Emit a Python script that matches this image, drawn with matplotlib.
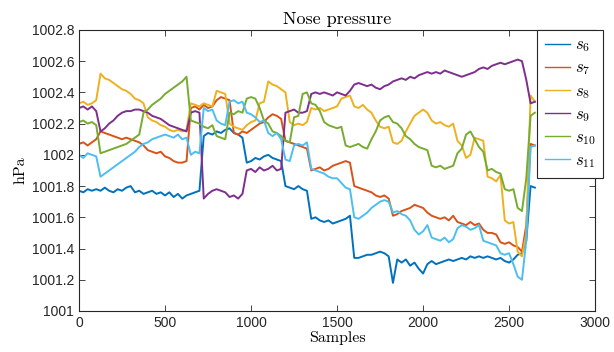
import numpy as np
import matplotlib
matplotlib.use("Agg")
import matplotlib.pyplot as plt

# sample index of each reading (one reading every 25 samples)
samples = list(range(0, 2651, 25))

s6 = [1001.77, 1001.76, 1001.78, 1001.77, 1001.78, 1001.77, 1001.79, 1001.77,
      1001.76, 1001.78, 1001.77, 1001.79, 1001.80, 1001.76, 1001.77, 1001.75,
      1001.76, 1001.77, 1001.75, 1001.76, 1001.74, 1001.76, 1001.73, 1001.75,
      1001.72, 1001.74, 1001.75, 1001.76, 1001.77, 1002.12, 1002.14, 1002.13,
      1002.15, 1002.14, 1002.16, 1002.17, 1002.14, 1002.13, 1002.11, 1001.95,
      1001.96, 1001.98, 1001.97, 1001.99, 1002.00, 1001.98, 1001.97, 1001.96,
      1001.80, 1001.79, 1001.78, 1001.80, 1001.78, 1001.77, 1001.59, 1001.60,
      1001.58, 1001.57, 1001.58, 1001.56, 1001.57, 1001.58, 1001.59, 1001.61,
      1001.34, 1001.34, 1001.35, 1001.36, 1001.36, 1001.37, 1001.38, 1001.37,
      1001.35, 1001.18, 1001.33, 1001.31, 1001.33, 1001.29, 1001.31, 1001.27,
      1001.24, 1001.30, 1001.32, 1001.30, 1001.31, 1001.32, 1001.33, 1001.32,
      1001.33, 1001.34, 1001.33, 1001.35, 1001.34, 1001.35, 1001.34, 1001.35,
      1001.34, 1001.33, 1001.34, 1001.32, 1001.31, 1001.33, 1001.36, 1001.37,
      1001.45, 1001.80, 1001.79]

s7 = [1002.07, 1002.08, 1002.06, 1002.08, 1002.10, 1002.15, 1002.14, 1002.13,
      1002.12, 1002.11, 1002.10, 1002.11, 1002.10, 1002.09, 1002.08, 1002.06,
      1002.03, 1002.02, 1002.01, 1002.02, 1001.99, 1001.98, 1001.96, 1001.95,
      1001.95, 1001.96, 1002.30, 1002.31, 1002.29, 1002.32, 1002.30, 1002.31,
      1002.35, 1002.37, 1002.36, 1002.35, 1002.14, 1002.13, 1002.15, 1002.14,
      1002.16, 1002.18, 1002.20, 1002.21, 1002.24, 1002.26, 1002.25, 1002.23,
      1002.09, 1002.08, 1002.07, 1002.06, 1002.05, 1002.04, 1001.90, 1001.91,
      1001.92, 1001.90, 1001.91, 1001.93, 1001.94, 1001.95, 1001.96, 1001.95,
      1001.80, 1001.79, 1001.78, 1001.77, 1001.76, 1001.74, 1001.73, 1001.74,
      1001.72, 1001.61, 1001.62, 1001.64, 1001.65, 1001.66, 1001.68, 1001.67,
      1001.66, 1001.63, 1001.61, 1001.60, 1001.59, 1001.60, 1001.58, 1001.61,
      1001.57, 1001.56, 1001.55, 1001.57, 1001.55, 1001.56, 1001.52, 1001.50,
      1001.50, 1001.49, 1001.44, 1001.43, 1001.44, 1001.42, 1001.41, 1001.38,
      1001.55, 1002.07, 1002.06]

s8 = [1002.33, 1002.34, 1002.32, 1002.33, 1002.35, 1002.52, 1002.49, 1002.48,
      1002.46, 1002.44, 1002.42, 1002.41, 1002.39, 1002.36, 1002.35, 1002.33,
      1002.24, 1002.22, 1002.21, 1002.19, 1002.18, 1002.16, 1002.15, 1002.16,
      1002.15, 1002.16, 1002.33, 1002.32, 1002.31, 1002.33, 1002.32, 1002.31,
      1002.41, 1002.40, 1002.39, 1002.20, 1002.18, 1002.17, 1002.16, 1002.19,
      1002.21, 1002.22, 1002.33, 1002.34, 1002.47, 1002.45, 1002.44, 1002.42,
      1002.40, 1002.21, 1002.19, 1002.20, 1002.19, 1002.21, 1002.30, 1002.29,
      1002.30, 1002.28, 1002.29, 1002.30, 1002.31, 1002.36, 1002.37, 1002.38,
      1002.31, 1002.30, 1002.32, 1002.29, 1002.27, 1002.22, 1002.18, 1002.17,
      1002.18, 1002.08, 1002.07, 1002.09, 1002.15, 1002.20, 1002.25, 1002.27,
      1002.29, 1002.27, 1002.22, 1002.20, 1002.21, 1002.19, 1002.18, 1002.20,
      1002.09, 1002.06, 1001.98, 1002.00, 1002.11, 1002.10, 1002.09, 1001.86,
      1001.85, 1001.83, 1001.87, 1001.58, 1001.56, 1001.57, 1001.38, 1001.35,
      1001.50, 1002.38, 1002.34]

s9 = [1002.30, 1002.31, 1002.29, 1002.31, 1002.28, 1002.15, 1002.17, 1002.20,
      1002.22, 1002.25, 1002.27, 1002.28, 1002.28, 1002.29, 1002.29, 1002.28,
      1002.27, 1002.25, 1002.24, 1002.23, 1002.21, 1002.19, 1002.18, 1002.17,
      1002.16, 1002.15, 1002.27, 1002.28, 1002.27, 1001.72, 1001.75, 1001.77,
      1001.78, 1001.77, 1001.76, 1001.73, 1001.74, 1001.72, 1001.75, 1001.90,
      1001.91, 1001.89, 1001.92, 1001.90, 1001.91, 1001.93, 1001.90, 1001.91,
      1002.27, 1002.28, 1002.29, 1002.27, 1002.27, 1002.28, 1002.39, 1002.40,
      1002.39, 1002.40, 1002.39, 1002.38, 1002.40, 1002.39, 1002.38, 1002.41,
      1002.45, 1002.46, 1002.45, 1002.44, 1002.45, 1002.43, 1002.42, 1002.44,
      1002.45, 1002.47, 1002.48, 1002.49, 1002.48, 1002.50, 1002.49, 1002.51,
      1002.52, 1002.53, 1002.52, 1002.53, 1002.52, 1002.54, 1002.53, 1002.52,
      1002.51, 1002.50, 1002.51, 1002.52, 1002.53, 1002.55, 1002.56, 1002.55,
      1002.57, 1002.58, 1002.59, 1002.58, 1002.59, 1002.60, 1002.61, 1002.60,
      1002.48, 1002.33, 1002.34]

s10 = [1002.21, 1002.22, 1002.20, 1002.21, 1002.19, 1002.01, 1002.02, 1002.03,
       1002.04, 1002.05, 1002.06, 1002.07, 1002.09, 1002.11, 1002.13, 1002.27,
       1002.29, 1002.32, 1002.34, 1002.36, 1002.39, 1002.41, 1002.43, 1002.45,
       1002.47, 1002.50, 1002.22, 1002.21, 1002.20, 1002.18, 1002.17, 1002.19,
       1002.12, 1002.11, 1002.10, 1002.27, 1002.26, 1002.28, 1002.27, 1002.36,
       1002.37, 1002.36, 1002.30, 1002.22, 1002.20, 1002.15, 1002.14, 1002.12,
       1002.09, 1002.08, 1002.24, 1002.25, 1002.39, 1002.40, 1002.33, 1002.32,
       1002.28, 1002.21, 1002.19, 1002.18, 1002.17, 1002.18, 1002.06, 1002.05,
       1002.06, 1002.07, 1002.05, 1002.04, 1002.10, 1002.15, 1002.22, 1002.24,
       1002.25, 1002.21, 1002.20, 1002.17, 1002.12, 1002.10, 1002.07, 1002.05,
       1002.04, 1002.03, 1001.93, 1001.92, 1001.93, 1001.91, 1001.92, 1001.93,
       1002.01, 1002.04, 1002.13, 1002.15, 1002.10, 1002.05, 1002.02, 1001.90,
       1001.91, 1001.89, 1001.88, 1001.78, 1001.77, 1001.78, 1001.66, 1001.64,
       1001.85, 1002.25, 1002.27]

s11 = [1002.00, 1001.98, 1002.01, 1002.00, 1001.99, 1001.86, 1001.88, 1001.90,
       1001.92, 1001.94, 1001.96, 1001.98, 1002.00, 1002.02, 1002.05, 1002.07,
       1002.08, 1002.10, 1002.11, 1002.12, 1002.13, 1002.12, 1002.11, 1002.13,
       1002.10, 1002.11, 1002.00, 1002.02, 1002.01, 1002.30, 1002.28, 1002.29,
       1002.22, 1002.20, 1002.19, 1002.34, 1002.35, 1002.33, 1002.34, 1002.27,
       1002.26, 1002.24, 1002.21, 1002.22, 1002.14, 1002.12, 1002.14, 1002.10,
       1001.97, 1001.96, 1002.06, 1002.07, 1002.06, 1002.08, 1001.91, 1001.90,
       1001.89, 1001.88, 1001.86, 1001.85, 1001.85, 1001.82, 1001.79, 1001.78,
       1001.60, 1001.59, 1001.61, 1001.63, 1001.66, 1001.68, 1001.70, 1001.71,
       1001.70, 1001.63, 1001.64, 1001.62, 1001.61, 1001.58, 1001.52, 1001.49,
       1001.51, 1001.55, 1001.47, 1001.46, 1001.45, 1001.47, 1001.44, 1001.46,
       1001.53, 1001.55, 1001.54, 1001.52, 1001.53, 1001.55, 1001.45, 1001.44,
       1001.43, 1001.42, 1001.37, 1001.36, 1001.37, 1001.30, 1001.22, 1001.20,
       1001.45, 1002.05, 1002.06]

series = [s6, s7, s8, s9, s10, s11]
labels = ['$s_{6}$', '$s_{7}$', '$s_{8}$', '$s_{9}$', '$s_{10}$', '$s_{11}$']
colors = ['#0072BD', '#D95319', '#EDB120', '#7E2F8E', '#77AC30', '#4DBEEE']

plt.rcParams['font.family'] = ['Liberation Sans', 'DejaVu Sans']
plt.rcParams['mathtext.fontset'] = 'cm'
serif = ['cmr10', 'DejaVu Serif']

fig = plt.figure(figsize=(6.14, 3.52), dpi=100)
ax = fig.add_axes([0.1287, 0.1165, 0.8405, 0.7985])

for y, lab, c in zip(series, labels, colors):
    ax.plot(samples, y, color=c, lw=1.4, label=lab)

ax.set_xlim(0, 3000)
ax.set_ylim(1001, 1002.8)
ax.set_xticks(np.arange(0, 3001, 500))
yt = [1001, 1001.2, 1001.4, 1001.6, 1001.8, 1002, 1002.2, 1002.4, 1002.6, 1002.8]
ax.set_yticks(yt)
ax.set_yticklabels(['%g' % v for v in yt])
ax.tick_params(direction='in', top=True, right=True, length=4, width=0.6,
               labelsize=10, colors='#262626')
for sp in ax.spines.values():
    sp.set_linewidth(0.8)
    sp.set_color('#262626')

ax.set_title('Nose pressure', family=serif, fontsize=13, pad=4)
ax.set_xlabel('Samples', family=serif, fontsize=11.5, labelpad=1)
ax.set_ylabel('hPa', family=serif, fontsize=11.5, labelpad=3)

leg = ax.legend(loc='upper right', bbox_to_anchor=(1.016, 1.0), fancybox=False,
                framealpha=1, edgecolor='#262626', fontsize=12, handlelength=1.5,
                handletextpad=0.3, borderaxespad=0, labelspacing=0.38,
                borderpad=0.45)
leg.get_frame().set_linewidth(0.8)
for h in leg.get_lines():
    h.set_linewidth(1.0)

fig.savefig('out.png', dpi=100)
